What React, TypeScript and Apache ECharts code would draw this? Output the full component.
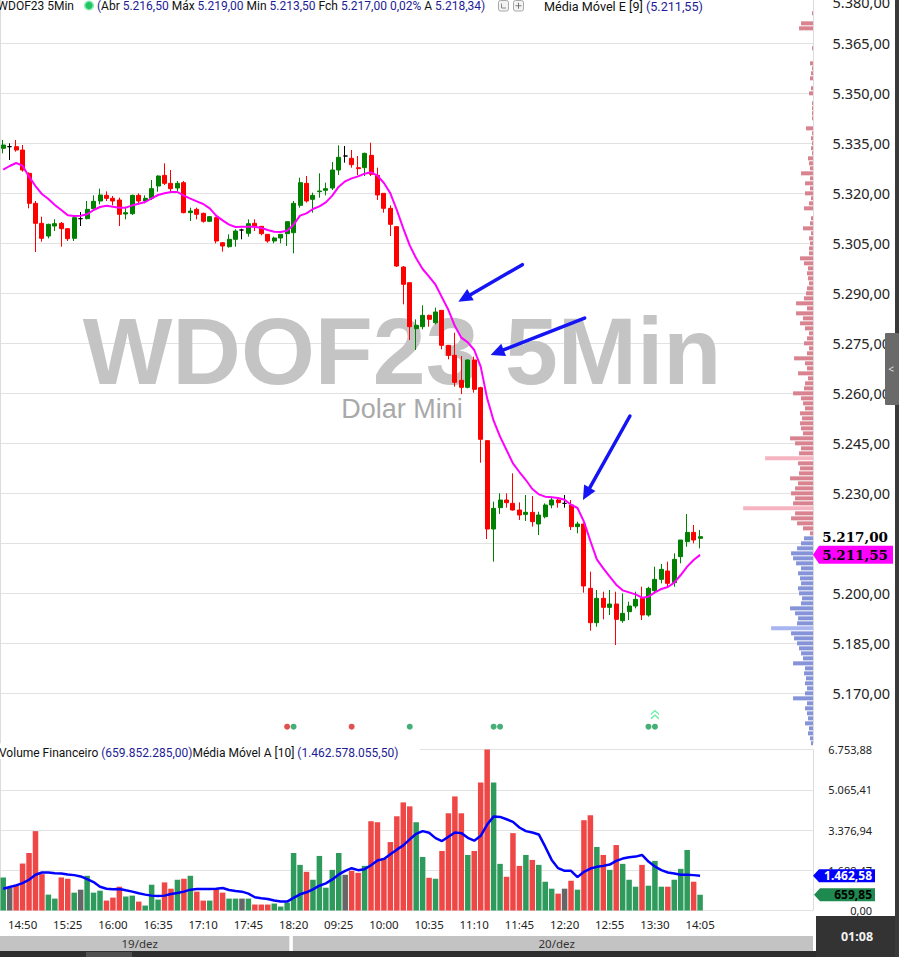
import React, { useEffect, useRef } from 'react';
import * as echarts from 'echarts';

// ---------- categories ----------
const day1Start = '14:35';
const day1Bars = 47;
const day2Start = '09:00';
const day2Bars = 62;
const futureSlots = 17;
const dayLabels = ['19/dez', '20/dez'];
const labelFirstIndex = 3;
const labelEvery = 7;
const daySplitIndex = 45;

// ---------- candles ----------
const opens = [
  5333.5, 5334, 5334, 5333, 5326, 5317, 5311, 5307.2, 5310.2, 5311,
  5309.4, 5306.5, 5312.4, 5312.4, 5315.4, 5317.7, 5319.4, 5318.5, 5318, 5313.8,
  5313.9, 5319.4, 5317.7, 5318.5, 5322.2, 5325.4, 5323, 5321.6, 5323.2, 5314.2,
  5315.2, 5314, 5311.6, 5312.7, 5305.2, 5304, 5306.2, 5309, 5308, 5311,
  5310.1, 5307.7, 5305.7, 5306.6, 5307.9, 5308.2, 5316.4, 5323, 5318.2, 5320.5,
  5320.9, 5321.6, 5327, 5331.2, 5330.5, 5327.7, 5327.7, 5331.4, 5325.4, 5320,
  5315.5, 5310, 5297.9, 5293.2, 5279.4, 5280, 5283.4, 5281.2, 5284.9, 5274.4,
  5271.4, 5263.9, 5261.8, 5270, 5261.7, 5245.8, 5219.3, 5225.7, 5228, 5227,
  5225, 5223.7, 5224.3, 5220.8, 5223, 5226.5, 5228, 5227, 5226.5, 5220,
  5220.8, 5201.5, 5191.2, 5198.5, 5195.8, 5196.8, 5191.8, 5194.5, 5196.2, 5198.5,
  5193.5, 5200.8, 5204.2, 5206.7, 5203.2, 5211, 5215.5, 5218.3, 5216.5,
];
const closes = [
  5334.5, 5334, 5333, 5327, 5317, 5311, 5306.5, 5310.7, 5310.9, 5309.4,
  5306.4, 5312.7, 5312.4, 5315.2, 5317.6, 5319.5, 5318.5, 5317.7, 5313.7, 5314.2,
  5319.4, 5317.7, 5318.5, 5321.4, 5325.2, 5323, 5321.4, 5323, 5314.2, 5314.7,
  5313.7, 5311.6, 5313, 5305.7, 5304.2, 5306.2, 5308.7, 5309, 5310.9, 5310,
  5307.9, 5305.7, 5306.6, 5307.7, 5311.5, 5317, 5323.2, 5317.7, 5319.4, 5320.7,
  5321.4, 5327, 5330.8, 5331.2, 5328.6, 5327.4, 5332, 5325.7, 5319.5, 5315.5,
  5310.7, 5298.2, 5292.7, 5280, 5280.4, 5283.4, 5282.2, 5284.4, 5274.4, 5271.4,
  5263.3, 5261.8, 5270, 5261.2, 5246.2, 5219.3, 5225.5, 5228, 5227.2, 5225,
  5223.5, 5224.3, 5221.5, 5223.5, 5226.5, 5228, 5227.2, 5227, 5220, 5220.8,
  5202.2, 5191.2, 5198.5, 5195.8, 5196.8, 5192.2, 5194, 5196.2, 5198.2, 5193.5,
  5201.5, 5204.2, 5207.2, 5203, 5210.2, 5216, 5218.3, 5216, 5217,
];
const lows = [
  5332, 5330, 5332.5, 5326.5, 5315.5, 5302.4, 5305.5, 5306.5, 5308.7, 5304,
  5305.7, 5305.7, 5310.2, 5312.2, 5315, 5316.7, 5317.7, 5316.4, 5310.2, 5312.2,
  5313.5, 5317, 5317, 5318, 5320.5, 5322.5, 5320.4, 5320.7, 5314, 5311.7,
  5312.2, 5311.2, 5311.4, 5305, 5302.5, 5303.7, 5304, 5306.2, 5307, 5308.7,
  5307.4, 5305.2, 5305, 5305, 5304.2, 5302, 5315.7, 5317.2, 5314.2, 5318.7,
  5319.4, 5321, 5325.5, 5329.2, 5327.7, 5325.4, 5325.2, 5325.2, 5318, 5314.2,
  5307.2, 5297.9, 5286.7, 5276, 5273, 5279.2, 5280, 5280.7, 5273.2, 5270.2,
  5262, 5259.8, 5261.5, 5260.2, 5239.2, 5216.3, 5209.5, 5223.8, 5225.7, 5224.8,
  5222, 5221.7, 5220, 5217.5, 5222.5, 5225.5, 5225.7, 5225.7, 5219, 5218,
  5200.2, 5188.8, 5190, 5192.2, 5193.5, 5184.5, 5191.2, 5192, 5195.5, 5192,
  5193, 5200, 5203, 5202, 5202, 5209, 5214, 5215, 5213.5,
];
const highs = [
  5336, 5335, 5336, 5334.5, 5326.3, 5317.7, 5313, 5310.9, 5312.2, 5311.4,
  5309.6, 5313.5, 5314.4, 5317.7, 5319.4, 5321.4, 5320.6, 5319.2, 5318.7, 5316,
  5319.6, 5320, 5319.4, 5324, 5325.4, 5329, 5327, 5323.7, 5323.7, 5315.7,
  5315.7, 5314.2, 5313.2, 5313, 5305.4, 5307.7, 5309.2, 5309.4, 5312.2, 5312.2,
  5310.2, 5307.7, 5307, 5307.7, 5311.5, 5317.7, 5324.7, 5325.2, 5320.2, 5326,
  5323.2, 5329.4, 5334.4, 5334.2, 5333, 5331.2, 5332.2, 5335.2, 5327.7, 5320,
  5316.4, 5310.2, 5298.2, 5293.2, 5282.2, 5286.4, 5283.6, 5285.7, 5284.9, 5274.4,
  5278.2, 5271.2, 5270.2, 5271, 5262, 5246, 5227.5, 5230, 5230, 5236,
  5227.3, 5229.5, 5229.2, 5224.5, 5227, 5229, 5228.5, 5229.5, 5228, 5221.5,
  5221, 5206.5, 5201, 5200.5, 5201, 5200.5, 5200, 5197.5, 5200.5, 5202,
  5202, 5208, 5208.8, 5209.5, 5212, 5216, 5223.8, 5220.5, 5219,
];
// Média Móvel E [9]
const ema9 = [
  5327.1, 5328.2, 5329.1, 5328.3, 5325.0, 5322.2, 5319.8, 5318.3, 5316.5, 5315.0,
  5313.4, 5313.2, 5313.3, 5313.7, 5315.0, 5315.9, 5316.3, 5316.0, 5315.7, 5315.7,
  5316.4, 5316.9, 5317.4, 5318.5, 5319.5, 5320.0, 5320.4, 5320.4, 5319.3, 5318.4,
  5317.6, 5316.8, 5315.5, 5313.3, 5311.9, 5310.6, 5309.9, 5310.0, 5310.0, 5310.0,
  5309.6, 5309.0, 5308.5, 5308.4, 5308.8, 5310.6, 5313.3, 5314.0, 5315.3, 5316.1,
  5317.3, 5319.3, 5322.0, 5323.6, 5324.5, 5325.1, 5325.9, 5326.3, 5325.3, 5323.1,
  5320.0, 5315.0, 5309.5, 5304.4, 5300.5, 5297.3, 5295.0, 5292.6, 5288.8, 5285.0,
  5280.2, 5276.7, 5275.3, 5273.0, 5268.0, 5258.5, 5251.8, 5247.0, 5243.0, 5239.0,
  5236.4, 5234.0, 5231.3, 5229.7, 5229.0, 5228.8, 5228.6, 5228.1, 5226.6, 5225.6,
  5221.5, 5215.7, 5210.2, 5207.5, 5205.0, 5202.6, 5200.9, 5200.3, 5199.7, 5198.7,
  5199.0, 5200.3, 5201.3, 5201.9, 5203.2, 5205.5, 5208.0, 5210.0, 5211.55,
];

// ---------- volume (millions) ----------
const volumes = [
  1387, 971, 1082, 1970, 2413, 3329, 1526, 666, 499, 1387,
  1332, 749, 874, 1456, 749, 832, 416, 541, 999, 583,
  624, 374, 208, 1082, 458, 1179, 915, 1290, 1332, 1456,
  791, 416, 416, 915, 749, 499, 499, 499, 499, 250,
  250, 250, 291, 166, 333, 2413, 1914, 1623, 1290, 2289,
  957, 1706, 2413, 1498, 1664, 1581, 1872, 3745, 3703, 2205,
  2871, 3953, 4535, 4369, 3703, 2247, 1373, 1332, 2497, 4078,
  4785, 4078, 2330, 2497, 5368, 6753.88, 5368, 1956, 1415, 3246,
  1872, 2330, 2122, 1914, 1207, 915, 707, 915, 1248, 874,
  3787, 3995, 2663, 2330, 1706, 2746, 1956, 1290, 999, 1914,
  1040, 2081, 999, 999, 1290, 1748, 2538, 1207, 659.85,
];
// Média Móvel A [10]
const volumeMa10 = [
  915, 985, 1054, 1151, 1290, 1498, 1595, 1595, 1567, 1553,
  1512, 1484, 1429, 1318, 1193, 999, 915, 888, 902, 846,
  791, 721, 666, 624, 610, 624, 694, 735, 791, 874,
  902, 902, 902, 915, 943, 860, 818, 791, 707, 555,
  513, 485, 416, 374, 374, 527, 680, 763, 888, 1040,
  1137, 1304, 1512, 1664, 1775, 1692, 1734, 1900, 2094, 2164,
  2358, 2552, 2732, 2982, 3218, 3329, 3259, 3037, 2913, 3093,
  3273, 3246, 3051, 2927, 3135, 3606, 3939, 3925, 3828, 3717,
  3481, 3329, 3273, 3190, 2677, 2122, 1775, 1664, 1664, 1401,
  1623, 1761, 1831, 1872, 1928, 2081, 2178, 2233, 2261, 2330,
  2053, 1845, 1692, 1595, 1553, 1498, 1498, 1484, 1462.58,
];

// ---------- signals ----------
const signalRed = [44, 54];
const signalGreen = [45, 63, 76, 77, 100, 101];
const signalUp = [101];
const signalLevel = 5160;
const signalUpLevel = 5163.6;

// ---------- volume profile ----------
const profileStart = 5155;
const profileStep = 1.5;
const profileWidths = [
  2, 3, 5, 4, 8, 5, 6, 8, 6, 20,
  8, 6, 8, 7, 9, 8, 20, 10, 12, 14,
  16, 19, 22, 42, 16, 15, 18, 23, 12, 11,
  14, 15, 12, 13, 15, 12, 17, 20, 22, 16,
  12, 9, 3, 10, 16, 22, 18, 70, 20, 18,
  22, 18, 15, 23, 14, 13, 15, 48, 14, 12,
  18, 23, 10, 12, 13, 11, 13, 8, 10, 12,
  20, 9, 8, 5, 15, 6, 8, 19, 6, 4,
  9, 6, 4, 8, 13, 10, 17, 6, 17, 9,
  7, 6, 4, 5, 6, 5, 9, 13, 4, 4,
  3, 4, 2, 10, 3, 2, 0, 9, 4, 2,
  8, 3, 8, 3, 12, 3, 4, 5, 1, 2,
  1, 2, 1, 7, 0, 1, 1, 1, 1, 0,
  4, 2, 0, 3, 2, 1, 3, 0, 0, 1,
  0, 0, 0, 14, 12, 0, 1, 0, 0,
];
const profileHighlights = [5189.5, 5225.5, 5240.5];

// ---------- axes ----------
const priceMin = 5155;
const priceMax = 5378;
const priceInterval = 15;
const priceTopLabel = 5380;
const hiddenPriceLabels = [5155, 5215];
const volMax = 6753.88;
const volInterval = 1688.47;

// ---------- texts ----------
const tickerTitle = 'WDOF23 5Min';
const assetTitle = 'Dolar Mini';
const headerChange = '0,02%';
const headerAdjust = 5218.34;
const volumeFinText = '659.852.285,00';
const volumeMaText = '1.462.578.055,50';
const countdownText = '01:08';

// arrows: target bar/price, tip nudge and tail offset (px)
const arrowDefs = [
  { i: 71, p: 5287.5, nx: -3, tx: 64, ty: -37 },
  { i: 76, p: 5271.5, nx: -3, tx: 94, ty: -37 },
  { i: 90, p: 5228, nx: -1, tx: 47, ty: -84 },
];

// ---------- layout ----------
const GRID_LEFT = -2.2;
const GRID_WIDTH = 815.2;
const PRICE_TOP = 0;
const PRICE_HEIGHT = 743.35;
const VOL_TOP = 749.5;
const VOL_HEIGHT = 161;
const HEADER_Y = 6.3;

const GREEN = '#008000';
const RED = '#ff0000';
const VGREEN = '#2e9b5c';
const VRED = '#ef4646';
const VGRAY = '#666666';
const NAVY = '#1c1c96';

function buildTimes(start: string, n: number): string[] {
  const [h, m] = start.split(':').map(Number);
  const out: string[] = [];
  for (let k = 0; k < n; k++) {
    const t = h * 60 + m + 5 * k;
    out.push(String(Math.floor(t / 60)).padStart(2, '0') + ':' + String(t % 60).padStart(2, '0'));
  }
  return out;
}

const categories: string[] = [
  ...buildTimes(day1Start, day1Bars),
  ...buildTimes(day2Start, day2Bars),
  ...Array.from({ length: futureSlots }, (_, k) => 'f' + k),
];

function fmtBR(v: number, d = 2): string {
  const s = Math.abs(v).toFixed(d);
  const [int, dec] = s.split('.');
  const intS = int.replace(/\B(?=(\d{3})+(?!\d))/g, '.');
  return (v < 0 ? '-' : '') + intS + (d ? ',' + dec : '');
}

function arrowShapes(tip: number[], tail: number[], color: string) {
  const dx = tip[0] - tail[0];
  const dy = tip[1] - tail[1];
  const L = Math.hypot(dx, dy);
  const ux = dx / L;
  const uy = dy / L;
  const hl = 14;
  const hw = 6.5;
  const bx = tip[0] - ux * hl;
  const by = tip[1] - uy * hl;
  return [
    {
      type: 'line',
      z: 100,
      shape: { x1: tail[0], y1: tail[1], x2: bx + ux * 3, y2: by + uy * 3 },
      style: { stroke: color, lineWidth: 3.5, lineCap: 'round' },
    },
    {
      type: 'polygon',
      z: 100,
      shape: { points: [[tip[0], tip[1]], [bx - uy * hw, by + ux * hw], [bx + uy * hw, by - ux * hw]] },
      style: { fill: color },
    },
  ];
}

function tagShape(tipX: number, right: number, cy: number, h: number, fill: string) {
  return {
    type: 'polygon',
    z: 100,
    shape: {
      points: [
        [tipX, cy],
        [tipX + 6, cy - h / 2],
        [right, cy - h / 2],
        [right, cy + h / 2],
        [tipX + 6, cy + h / 2],
      ],
    },
    style: { fill },
  };
}

export default function App() {
  const ref = useRef<HTMLDivElement>(null);

  useEffect(() => {
    if (!ref.current) return;
    const chart = echarts.init(ref.current, null, { renderer: 'svg' });
    const last = opens.length - 1;
    const profileSplit = closes[last];

    const candleData = opens.map((o, i) => [o, closes[i], lows[i], highs[i]]);
    const volData = volumes.map((v, i) => ({
      value: v,
      itemStyle: { color: closes[i] > opens[i] ? VGREEN : closes[i] < opens[i] ? VRED : VGRAY },
    }));
    const profileData = profileWidths.map((w, k) => {
      const p = profileStart + k * profileStep;
      return [w, p, profileHighlights.includes(p) ? 1 : 0];
    });

    const isPriceTick = (v: number) => Math.abs(((v - priceMin) / priceInterval) - Math.round((v - priceMin) / priceInterval)) < 1e-6;

    const option: any = {
      animation: false,
      backgroundColor: '#ffffff',
      textStyle: { fontFamily: 'Noto Sans' },
      grid: [
        { left: GRID_LEFT, top: PRICE_TOP, width: GRID_WIDTH, height: PRICE_HEIGHT },
        { left: GRID_LEFT, top: VOL_TOP, width: GRID_WIDTH, height: VOL_HEIGHT },
      ],
      xAxis: [
        {
          type: 'category',
          gridIndex: 0,
          data: categories,
          boundaryGap: true,
          axisLine: { show: false },
          axisTick: { show: false },
          axisLabel: { show: false },
          splitLine: { show: true, interval: (i: number) => i === daySplitIndex, lineStyle: { color: '#dcdcdc', width: 1 } },
        },
        {
          type: 'value',
          gridIndex: 0,
          inverse: true,
          min: 0,
          max: GRID_WIDTH,
          show: false,
        },
        {
          type: 'category',
          gridIndex: 1,
          data: categories,
          boundaryGap: true,
          axisLine: { show: false },
          axisTick: { show: false },
          axisLabel: {
            show: true,
            interval: (i: number) => i <= last && (i - labelFirstIndex) % labelEvery === 0,
            color: '#222',
            fontSize: 11.5,
            margin: 8,
            fontFamily: 'Noto Sans',
          },
          splitLine: { show: true, interval: (i: number) => i === daySplitIndex, lineStyle: { color: '#dcdcdc', width: 1 } },
        },
      ],
      yAxis: [
        {
          type: 'value',
          gridIndex: 0,
          position: 'right',
          min: priceMin,
          max: priceMax,
          interval: priceInterval,
          axisLine: { show: false },
          axisTick: { show: false },
          splitLine: { show: true, showMinLine: false, showMaxLine: false, lineStyle: { color: '#e2e2e2', width: 1 } },
          axisLabel: {
            align: 'right',
            margin: 77,
            color: '#222',
            fontSize: 14.5,
            fontFamily: 'Noto Sans',
            showMaxLabel: false,
            formatter: (v: number) => {
              if (!isPriceTick(v)) return '';
              if (hiddenPriceLabels.includes(Math.round(v))) return '';
              return fmtBR(v);
            },
          },
        },
        {
          type: 'value',
          gridIndex: 1,
          position: 'right',
          min: 0,
          max: volMax,
          interval: volInterval,
          axisLine: { show: false },
          axisTick: { show: false },
          splitLine: { show: true, lineStyle: { color: '#e2e2e2', width: 1 } },
          axisLabel: {
            align: 'right',
            margin: 59,
            color: '#222',
            fontSize: 11,
            fontFamily: 'Noto Sans',
            formatter: (v: number) => fmtBR(v),
          },
        },
      ],
      series: [
        {
          type: 'candlestick',
          xAxisIndex: 0,
          yAxisIndex: 0,
          data: candleData,
          barWidth: 4.5,
          itemStyle: {
            color: GREEN,
            color0: RED,
            borderColor: GREEN,
            borderColor0: RED,
            borderColorDoji: '#000000',
            borderWidth: 1,
          },
          z: 3,
        },
        {
          type: 'line',
          xAxisIndex: 0,
          yAxisIndex: 0,
          data: ema9,
          symbol: 'none',
          smooth: false,
          lineStyle: { color: '#ff00ff', width: 2 },
          z: 4,
        },
        {
          type: 'custom',
          xAxisIndex: 1,
          yAxisIndex: 0,
          data: profileData,
          encode: { x: 0, y: 1 },
          renderItem: (params: any, api: any) => {
            const w = api.value(0);
            const p = api.value(1);
            const hl = api.value(2);
            const a = api.coord([0, p]);
            const b = api.coord([w, p]);
            const h = Math.abs(api.size([0, profileStep])[1]);
            const up = p > profileSplit;
            const fill = hl ? (up ? '#f6b4c1' : '#a9b5f0') : up ? '#d8838f' : '#8593d8';
            return {
              type: 'rect',
              shape: { x: b[0], y: a[1] - h / 2 + 0.5, width: a[0] - b[0], height: Math.max(h - 1, 1) },
              style: { fill },
            };
          },
          z: 2,
        },
        {
          type: 'scatter',
          xAxisIndex: 0,
          yAxisIndex: 0,
          data: signalRed.map((i) => [i, signalLevel]),
          symbolSize: 6,
          itemStyle: { color: '#d92626' },
          z: 5,
        },
        {
          type: 'scatter',
          xAxisIndex: 0,
          yAxisIndex: 0,
          data: signalGreen.map((i) => [i, signalLevel]),
          symbolSize: 6,
          itemStyle: { color: '#189a55' },
          z: 5,
        },
        {
          type: 'scatter',
          xAxisIndex: 0,
          yAxisIndex: 0,
          data: signalUp.map((i) => [i, signalUpLevel]),
          symbol: 'path://M0,5 L5,0 L10,5 L10,7.5 L5,2.5 L0,7.5 Z M0,11 L5,6 L10,11 L10,13.5 L5,8.5 L0,13.5 Z',
          symbolSize: [8, 10],
          itemStyle: { color: '#3ee88a' },
          z: 5,
        },
        {
          type: 'bar',
          xAxisIndex: 2,
          yAxisIndex: 1,
          data: volData,
          barWidth: 5.5,
          z: 2,
        },
        {
          type: 'line',
          xAxisIndex: 2,
          yAxisIndex: 1,
          data: volumeMa10,
          symbol: 'none',
          lineStyle: { color: '#0000ff', width: 2.5 },
          z: 4,
        },
      ],
    };

    chart.setOption(option);

    const px = (i: number, v: number) => chart.convertToPixel({ seriesIndex: 0 }, [i, v]) as number[];
    const pv = (i: number, v: number) => chart.convertToPixel({ seriesIndex: 6 }, [i, v]) as number[];
    const sepX = (px(daySplitIndex - 1, 5200)[0] + px(daySplitIndex, 5200)[0]) / 2;
    const plotRight = GRID_LEFT + GRID_WIDTH;

    const yLast = px(last, closes[last])[1];
    const yEma = px(last, ema9[last])[1];
    const yVma = pv(last, volumeMa10[last])[1];
    const yVol = pv(last, volumes[last])[1];
    const yTopLabel = Math.max(px(last, priceTopLabel)[1], -7) + 9;

    const headerRich = {
      k: { fill: '#111', fontSize: 12, fontFamily: 'Roboto' },
      v: { fill: NAVY, fontSize: 12, fontFamily: 'Roboto' },
    };

    const graphic: any[] = [
      // watermark
      {
        type: 'text',
        z: 0,
        x: 402,
        y: 351,
        style: {
          text: tickerTitle,
          fill: '#c4c4c4',
          fontSize: 95,
          lineHeight: 72,
          fontWeight: 'bold',
          fontFamily: 'Liberation Sans',
          align: 'center',
          verticalAlign: 'middle',
        },
      },
      {
        type: 'text',
        z: 0,
        x: 402,
        y: 409,
        style: {
          text: assetTitle,
          fill: '#a9a9a9',
          fontSize: 27,
          lineHeight: 20,
          fontFamily: 'Liberation Sans',
          align: 'center',
          verticalAlign: 'middle',
        },
      },
      // top price label (partly above the window, like the reference)
      {
        type: 'text',
        z: 50,
        x: 890,
        y: yTopLabel,
        style: { text: fmtBR(priceTopLabel), fill: '#222', fontSize: 14.5, fontFamily: 'Noto Sans', align: 'right', verticalAlign: 'middle' },
      },
      // header
      {
        type: 'text',
        z: 100,
        x: 74,
        y: HEADER_Y,
        style: { text: tickerTitle, fill: '#111', fontSize: 12, fontFamily: 'Roboto', align: 'right', verticalAlign: 'middle' },
      },
      { type: 'circle', z: 100, shape: { cx: 89, cy: 5.5, r: 5 }, style: { fill: '#86ecb0' } },
      { type: 'circle', z: 100, shape: { cx: 89, cy: 5.5, r: 3.6 }, style: { fill: '#22c465' } },
      {
        type: 'text',
        z: 100,
        x: 97,
        y: HEADER_Y,
        style: {
          text:
            '{v|(}{k|Abr }{v|' + fmtBR(opens[last]) + '}{k| Máx }{v|' + fmtBR(highs[last]) +
            '}{k| Min }{v|' + fmtBR(lows[last]) + '}{k| Fch }{v|' + fmtBR(closes[last]) +
            ' ' + headerChange + '}{k| A }{v|' + fmtBR(headerAdjust) + ')}',
          rich: headerRich,
          verticalAlign: 'middle',
        },
      },
      { type: 'rect', z: 100, shape: { x: 498.5, y: 0.5, width: 10, height: 10.5, r: 2 }, style: { fill: '#f3f3f3', stroke: '#a8a8a8', lineWidth: 1 } },
      { type: 'polyline', z: 101, shape: { points: [[501.5, 3.5], [501.5, 8], [506, 8]] }, style: { stroke: '#888', lineWidth: 1, fill: 'none' } },
      { type: 'rect', z: 100, shape: { x: 513.5, y: 0.5, width: 10, height: 10.5, r: 2 }, style: { fill: '#f3f3f3', stroke: '#a8a8a8', lineWidth: 1 } },
      { type: 'line', z: 101, shape: { x1: 515.5, y1: 5.75, x2: 521.5, y2: 5.75 }, style: { stroke: '#777', lineWidth: 1 } },
      { type: 'line', z: 101, shape: { x1: 518.5, y1: 2.75, x2: 518.5, y2: 8.75 }, style: { stroke: '#777', lineWidth: 1 } },
      {
        type: 'text',
        z: 100,
        x: 544,
        y: HEADER_Y,
        style: {
          text: '{k|Média Móvel E [9] }{v|(' + fmtBR(ema9[last]) + ')}',
          rich: {
            k: { fill: '#111', fontSize: 12.6, fontFamily: 'Roboto' },
            v: { fill: NAVY, fontSize: 12.6, fontFamily: 'Roboto' },
          },
          verticalAlign: 'middle',
        },
      },
      // volume title
      { type: 'rect', z: 99, shape: { x: 0, y: 745, width: 420, height: 14 }, style: { fill: '#ffffff' } },
      {
        type: 'text',
        z: 100,
        x: -1,
        y: 753,
        style: {
          text: '{k|Volume Financeiro }{v|(' + volumeFinText + ')}{k|Média Móvel A [10] }{v|(' + volumeMaText + ')}',
          rich: headerRich,
          verticalAlign: 'middle',
        },
      },
      // price tags
      {
        type: 'text',
        z: 100,
        x: 888,
        y: yLast,
        style: { text: fmtBR(closes[last]), fill: '#000', fontSize: 13.5, fontWeight: 'bold', fontFamily: 'DejaVu Serif', align: 'right', verticalAlign: 'middle' },
      },
      tagShape(813, 893, yEma, 18, '#ff00ff'),
      {
        type: 'text',
        z: 101,
        x: 888,
        y: yEma,
        style: { text: fmtBR(ema9[last]), fill: '#000', fontSize: 13.5, fontWeight: 'bold', fontFamily: 'DejaVu Serif', align: 'right', verticalAlign: 'middle' },
      },
      // volume tags
      tagShape(813, 875, yVma, 13, '#0000ff'),
      {
        type: 'text',
        z: 101,
        x: 872,
        y: yVma,
        style: { text: fmtBR(volumeMa10[last]), fill: '#fff', fontSize: 12, fontWeight: 'bold', fontFamily: 'Noto Sans', align: 'right', verticalAlign: 'middle' },
      },
      tagShape(814, 875, yVol, 13, '#1f8a4f'),
      {
        type: 'text',
        z: 101,
        x: 872,
        y: yVol,
        style: { text: fmtBR(volumes[last]), fill: '#000', fontSize: 12, fontWeight: 'bold', fontFamily: 'Noto Sans', align: 'right', verticalAlign: 'middle' },
      },
      // date bar
      { type: 'rect', z: 100, shape: { x: 0, y: 936, width: sepX - 1, height: 15 }, style: { fill: '#c3c3c3' } },
      { type: 'rect', z: 100, shape: { x: sepX + 2.5, y: 936, width: plotRight - sepX - 2.5, height: 15 }, style: { fill: '#c3c3c3' } },
      {
        type: 'text',
        z: 101,
        x: (sepX - 1) / 2 - 5,
        y: 943.5,
        style: { text: dayLabels[0], fill: '#333', fontSize: 11.5, fontFamily: 'Noto Sans', align: 'center', verticalAlign: 'middle' },
      },
      {
        type: 'text',
        z: 101,
        x: (sepX + plotRight) / 2 + 5,
        y: 943.5,
        style: { text: dayLabels[1], fill: '#333', fontSize: 11.5, fontFamily: 'Noto Sans', align: 'center', verticalAlign: 'middle' },
      },
      // bottom strip and right panel
      { type: 'rect', z: 100, shape: { x: 0, y: 951, width: 899, height: 6 }, style: { fill: '#2e2e2e' } },
      { type: 'rect', z: 101, shape: { x: 86, y: 952, width: 46, height: 5 }, style: { fill: '#505050' } },
      { type: 'rect', z: 100, shape: { x: 816, y: 916, width: 83, height: 41 }, style: { fill: '#333333' } },
      {
        type: 'text',
        z: 101,
        x: 857,
        y: 936.5,
        style: { text: countdownText, fill: '#f2f2f2', fontSize: 12.5, fontWeight: 'bold', fontFamily: 'Noto Sans', align: 'center', verticalAlign: 'middle' },
      },
      { type: 'rect', z: 100, shape: { x: 895, y: 0, width: 4, height: 957 }, style: { fill: '#3a3a3a' } },
      { type: 'rect', z: 101, shape: { x: 885, y: 333, width: 14, height: 72, r: 1 }, style: { fill: '#6a6a6a' } },
      {
        type: 'text',
        z: 102,
        x: 891,
        y: 369,
        style: { text: '<', fill: '#e0e0e0', fontSize: 10, fontFamily: 'Noto Sans', align: 'center', verticalAlign: 'middle' },
      },
    ];

    arrowDefs.forEach((a) => {
      const t = px(a.i, a.p);
      const tip = [t[0] + a.nx, t[1]];
      const tail = [tip[0] + a.tx, tip[1] + a.ty];
      graphic.push(...arrowShapes(tip, tail, '#1414f5'));
    });

    chart.setOption({ graphic });

    return () => {
      chart.dispose();
    };
  }, []);

  return (
    <div
      ref={ref}
      style={{ position: 'fixed', left: 0, top: 0, width: 899, height: 957, background: '#fff' }}
    />
  );
}
